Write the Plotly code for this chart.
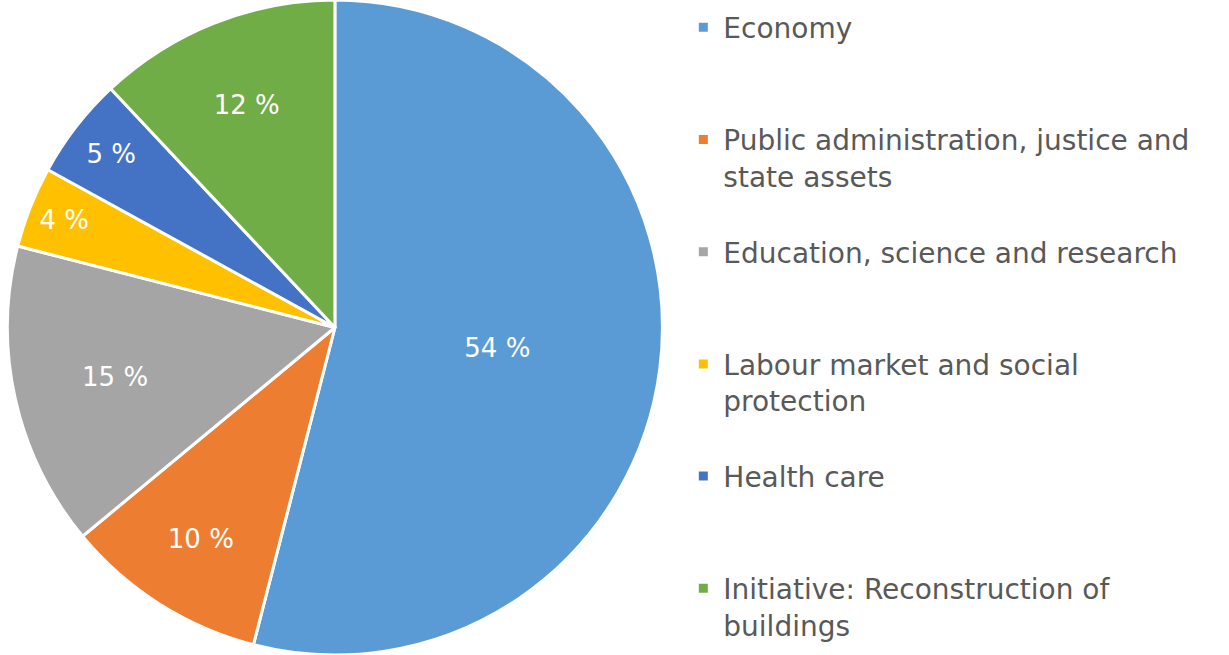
import plotly.graph_objects as go

categories = [
    "Economy",
    "Public administration, justice and<br>state assets",
    "Education, science and research",
    "Labour market and social<br>protection",
    "Health care",
    "Initiative: Reconstruction of<br>buildings",
]
shares = [54, 10, 15, 4, 5, 12]
colors = ["#5B9BD5", "#ED7D31", "#A5A5A5", "#FFC000", "#4472C4", "#70AD47"]

# pad legend entries to three lines so they are spaced evenly (last one needs no pad)
legend_names = [c + "<br> " * (2 - c.count("<br>")) for c in categories[:-1]] + [categories[-1]]

fig = go.Figure(go.Pie(
    labels=legend_names,
    values=shares,
    sort=False,
    direction="clockwise",
    rotation=0,
    marker=dict(colors=colors, line=dict(color="white", width=3)),
    texttemplate="%{value} %",
    textposition="inside",
    insidetextorientation="horizontal",
    textfont=dict(family="DejaVu Sans", size=26, color="white"),
    domain=dict(x=[0, 0.545], y=[0, 1]),
    hoverinfo="label+percent",
))

fig.update_layout(
    width=1229,
    height=655,
    margin=dict(t=0, b=0, l=0, r=0),
    paper_bgcolor="white",
    plot_bgcolor="white",
    legend=dict(
        x=0.556, y=0.996, xanchor="left", yanchor="top",
        valign="top",
        font=dict(family="DejaVu Sans", size=28, color="#595959"),
        itemwidth=30,
    ),
)

fig.write_html(
    "out.html",
    config={"displayModeBar": False},
    post_script="document.body.style.margin='0';",
)
